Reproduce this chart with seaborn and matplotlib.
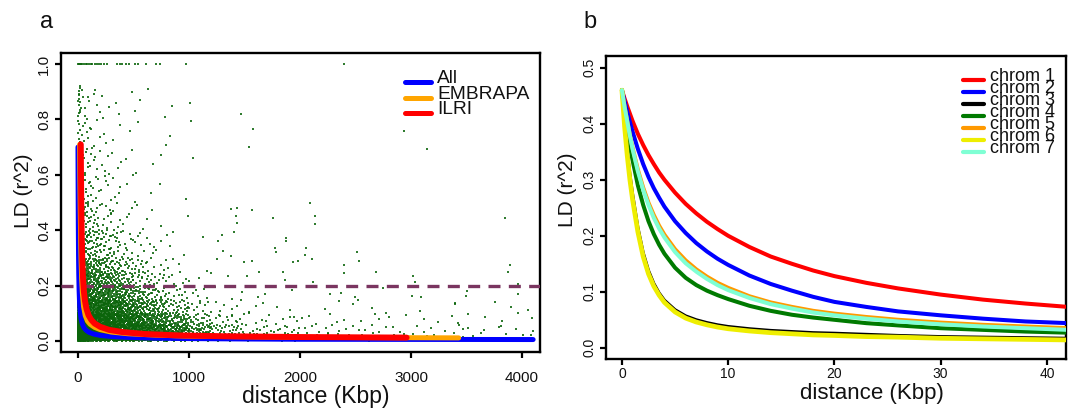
import numpy as np
import pandas as pd
import matplotlib
matplotlib.use('Agg')
import matplotlib.pyplot as plt
import seaborn as sns
from matplotlib.lines import Line2D

# ---------------- panel a : LD decay, all data ----------------
all_x = [0, 1, 2, 3, 5, 7, 10, 14, 20, 28, 40, 55, 75, 100, 140, 200, 300, 450, 700, 1000, 1500, 2000, 3000, 4100]
all_y = [0.70, 0.60, 0.50, 0.42, 0.31, 0.245, 0.185, 0.14, 0.105, 0.08, 0.06, 0.047, 0.038, 0.031, 0.025,
         0.02, 0.016, 0.013, 0.010, 0.0085, 0.007, 0.006, 0.0055, 0.005]

embrapa_x = [15, 17, 20, 24, 28, 33, 40, 50, 65, 85, 110, 150, 200, 300, 450, 700, 1000, 1500, 2000, 2700, 3430]
embrapa_y = [0.71, 0.60, 0.48, 0.37, 0.29, 0.225, 0.17, 0.125, 0.092, 0.072, 0.06, 0.049, 0.041, 0.032,
             0.026, 0.021, 0.017, 0.015, 0.013, 0.012, 0.011]

ilri_x = [25, 27, 30, 34, 39, 45, 53, 63, 77, 95, 120, 150, 200, 280, 400, 600, 900, 1300, 2000, 2960]
ilri_y = [0.71, 0.60, 0.48, 0.37, 0.29, 0.23, 0.18, 0.145, 0.115, 0.093, 0.076, 0.063, 0.051, 0.040,
          0.032, 0.025, 0.020, 0.017, 0.014, 0.012]

threshold = 0.2

# scatter density: counts of points per (distance, r^2) cell
x_edges = [0, 20, 50, 100, 200, 300, 400, 500, 600, 700, 800, 1000, 1200, 1500, 2000, 2500, 3000, 3500, 4100]
y_edges = [0, 0.03, 0.06, 0.1, 0.15, 0.2, 0.25, 0.3, 0.4, 0.5, 0.6, 0.7, 0.8, 0.92]
dens_counts = [
    [90, 90, 110, 100, 90, 80, 72, 65, 58, 52, 80, 50, 40, 32, 16, 12, 9, 9],
    [90, 90, 110, 100, 88, 78, 68, 58, 50, 42, 62, 30, 22, 16, 8, 7, 6, 6],
    [110, 110, 120, 110, 95, 80, 66, 54, 42, 34, 45, 20, 13, 10, 6, 5, 4, 5],
    [60, 60, 75, 85, 80, 66, 52, 40, 30, 22, 26, 10, 6, 5, 3, 3, 2, 3],
    [30, 35, 45, 55, 50, 40, 30, 22, 16, 11, 12, 5, 3, 3, 1, 1, 1, 1],
    [18, 22, 30, 40, 34, 26, 18, 12, 9, 6, 6, 3, 1, 1, 0, 0, 0, 0],
    [12, 15, 22, 28, 22, 16, 11, 7, 5, 3, 3, 1, 0, 0, 0, 0, 0, 0],
    [14, 16, 22, 30, 22, 15, 10, 6, 4, 3, 3, 1, 0, 0, 0, 0, 0, 0],
    [9, 10, 14, 16, 9, 6, 4, 2, 2, 1, 1, 0, 0, 0, 0, 0, 0, 0],
    [6, 6, 8, 9, 5, 4, 2, 1, 1, 1, 1, 0, 0, 0, 0, 0, 0, 0],
    [5, 5, 6, 7, 4, 3, 2, 1, 1, 1, 0, 0, 0, 0, 0, 0, 0, 0],
    [6, 3, 4, 5, 2, 2, 1, 1, 0, 1, 1, 0, 0, 0, 0, 0, 0, 0],
    [12, 4, 4, 5, 3, 2, 1, 2, 1, 1, 1, 0, 0, 0, 0, 0, 0, 0],
]

# points at r^2 = 1
one_x = [0, 10, 20, 30, 40, 55, 70, 85, 100, 115, 130, 150, 170, 190, 210, 235, 260,
         350, 375, 400, 430, 460, 515, 545, 610, 700, 735, 970, 2400]
one_y = [1.0] * len(one_x)

# individual outlying points
out_x = [1470, 1575, 1540, 2087, 2134, 2940, 3144, 3850, 3895, 1875, 2050, 1775, 2530, 1435, 1430,
         1005, 1020, 1040, 3960, 3015, 3036, 3012, 3090, 3396, 3960, 3875, 1380, 1423, 1565, 1760,
         2135, 1300, 1265, 1405, 1874, 1783, 2045, 1309, 1250, 1376, 1498, 1570, 1940, 1985, 2105,
         2510, 2396, 2396, 2685, 1843, 1525, 1865, 2120, 2270, 2495]
out_y = [0.82, 0.765, 0.70, 0.50, 0.424, 0.76, 0.693, 0.445, 0.274, 0.373, 0.334, 0.337, 0.29, 0.48, 0.425,
         0.86, 0.795, 0.66, 0.205, 0.236, 0.214, 0.164, 0.157, 0.138, 0.17, 0.25, 0.476, 0.452, 0.473, 0.443,
         0.452, 0.383, 0.362, 0.392, 0.36, 0.32, 0.31, 0.325, 0.296, 0.307, 0.284, 0.289, 0.286, 0.289, 0.296,
         0.322, 0.274, 0.244, 0.248, 0.248, 0.236, 0.22, 0.214, 0.168, 0.157]

# ---------------- panel b : per chromosome ----------------
chrom_x = [0, 0.25, 0.5, 0.75, 1, 1.5, 2, 2.5, 3, 3.5, 4, 5, 6, 7, 8, 9, 10, 12, 14, 16, 18, 20, 23, 26, 30, 34, 38, 42]
chrom_names = ["chrom 1", "chrom 2", "chrom 3", "chrom 4", "chrom 5", "chrom 6", "chrom 7"]
chrom1_y = [0.46, 0.445, 0.431, 0.418, 0.405, 0.382, 0.362, 0.344, 0.328, 0.313, 0.300, 0.277, 0.257, 0.240,
            0.225, 0.212, 0.200, 0.180, 0.163, 0.150, 0.138, 0.128, 0.116, 0.106, 0.095, 0.086, 0.079, 0.073]
chrom2_y = [0.46, 0.44, 0.421, 0.403, 0.386, 0.355, 0.328, 0.305, 0.285, 0.268, 0.252, 0.226, 0.205, 0.187,
            0.172, 0.159, 0.148, 0.129, 0.114, 0.102, 0.091, 0.082, 0.073, 0.065, 0.058, 0.052, 0.047, 0.044]
chrom3_y = [0.46, 0.40, 0.35, 0.31, 0.275, 0.215, 0.17, 0.138, 0.115, 0.098, 0.085, 0.068, 0.057, 0.050,
            0.045, 0.041, 0.038, 0.034, 0.031, 0.029, 0.027, 0.026, 0.024, 0.022, 0.020, 0.019, 0.018, 0.017]
chrom4_y = [0.46, 0.42, 0.39, 0.36, 0.335, 0.29, 0.255, 0.226, 0.203, 0.184, 0.168, 0.143, 0.125, 0.112,
            0.102, 0.094, 0.087, 0.075, 0.066, 0.059, 0.054, 0.050, 0.044, 0.040, 0.035, 0.032, 0.029, 0.027]
chrom5_y = [0.46, 0.43, 0.405, 0.38, 0.357, 0.318, 0.286, 0.259, 0.237, 0.218, 0.202, 0.176, 0.156, 0.140,
            0.127, 0.116, 0.107, 0.092, 0.081, 0.073, 0.066, 0.061, 0.055, 0.050, 0.045, 0.041, 0.038, 0.035]
chrom6_y = [0.46, 0.395, 0.343, 0.30, 0.265, 0.207, 0.163, 0.132, 0.110, 0.094, 0.081, 0.064, 0.053, 0.046,
            0.041, 0.037, 0.034, 0.030, 0.027, 0.025, 0.023, 0.022, 0.020, 0.019, 0.017, 0.016, 0.015, 0.014]
chrom7_y = [0.46, 0.43, 0.404, 0.379, 0.355, 0.315, 0.282, 0.255, 0.232, 0.213, 0.197, 0.171, 0.151, 0.136,
            0.123, 0.112, 0.103, 0.089, 0.078, 0.070, 0.063, 0.058, 0.052, 0.047, 0.042, 0.038, 0.035, 0.032]
chrom_ys = [chrom1_y, chrom2_y, chrom3_y, chrom4_y, chrom5_y, chrom6_y, chrom7_y]
chrom_colors = ["#ff0000", "#0000ff", "#000000", "#007a00", "#ff9900", "#eeee00", "#7fffd4"]
chrom_lw = [2.9, 2.9, 2.2, 2.9, 2.9, 3.4, 2.9]

# ---------------- build ----------------
sns.set_theme(style="ticks")
plt.rcParams['font.family'] = ['Liberation Sans', 'DejaVu Sans']

W, H = 1073, 412
fig = plt.figure(figsize=(W / 100, H / 100), dpi=100)


def box(l, t, r, b):
    return [l / W, 1 - b / H, (r - l) / W, (b - t) / H]


axa = fig.add_axes(box(61, 53, 540, 352))
axb = fig.add_axes(box(606, 56, 1066, 359))


def halton(i, b):
    f, r = 1.0, 0.0
    while i > 0:
        f /= b
        r += f * (i % b)
        i //= b
    return r


px, py = [], []
idx = 1
for j in range(len(y_edges) - 1):
    for i in range(len(x_edges) - 1):
        for k in range(dens_counts[j][i]):
            px.append(x_edges[i] + halton(idx, 2) * (x_edges[i + 1] - x_edges[i]))
            py.append(y_edges[j] + halton(idx, 3) * (y_edges[j + 1] - y_edges[j]))
            idx += 1
px += one_x + out_x
py += one_y + out_y
pts = pd.DataFrame({"distance": px, "r2": py})

green = "#0b650b"
sns.scatterplot(data=pts, x="distance", y="r2", ax=axa, s=1.0, marker="s",
                color=green, linewidth=0, alpha=0.85, legend=False, zorder=2)

axa.axhline(threshold, color="#7a3560", lw=2.4, dashes=(3.6, 2.5), zorder=3)

for xs, ys, col, lw in [(all_x, all_y, "#0000ff", 3.6),
                        (embrapa_x, embrapa_y, "#ffa500", 3.6),
                        (ilri_x, ilri_y, "#ff0000", 4.3)]:
    sns.lineplot(x=xs, y=ys, ax=axa, color=col, lw=lw, sort=False, estimator=None,
                 solid_capstyle="round", zorder=4)

axa.set_xlim(-153, 4162)
axa.set_ylim(-0.04, 1.04)
axa.set_xticks([0, 1000, 2000, 3000, 4000])
axa.set_xticklabels(["0", "1000", "2000", "3000", "4000"])
axa.set_yticks([0, 0.2, 0.4, 0.6, 0.8, 1.0])
axa.set_yticklabels(["0.0", "0.2", "0.4", "0.6", "0.8", "1.0"])

for i, (ys, col, lw) in enumerate(zip(chrom_ys, chrom_colors, chrom_lw)):
    sns.lineplot(x=chrom_x, y=ys, ax=axb, color=col, lw=lw, sort=False, estimator=None,
                 zorder=3 + i)
axb.set_xlim(-1.5, 41.8)
axb.set_ylim(-0.02, 0.521)
axb.set_xticks([0, 10, 20, 30, 40])
axb.set_xticklabels(["0", "10", "20", "30", "40"])
axb.set_yticks([0, 0.1, 0.2, 0.3, 0.4, 0.5])
axb.set_yticklabels(["0.0", "0.1", "0.2", "0.3", "0.4", "0.5"])

for ax, fs, xpad, xlp, ylp, xfs, xc, yc in [(axa, 11, 9, 0, 3, 16.5, 0.532, 0.538),
                                            (axb, 10, 1.5, 1.5, 3.5, 16, 0.578, 0.558)]:
    for sp in ax.spines.values():
        sp.set_visible(True)
        sp.set_linewidth(1.7)
        sp.set_color("black")
    ax.tick_params(axis="both", direction="out", length=4.5, width=1.6, colors="black",
                   labelsize=fs, labelcolor="#111111")
    ax.tick_params(axis="x", pad=xpad)
    ax.tick_params(axis="y", pad=2.5)
    for t in ax.get_yticklabels():
        t.set_rotation(90)
        t.set_va("center")
    ax.set_xlabel("distance (Kbp)", fontsize=xfs, labelpad=xlp, color="#111111")
    ax.set_ylabel("LD (r^2)", fontsize=15, labelpad=ylp, color="#111111")
    ax.xaxis.label.set_x(xc)
    ax.yaxis.label.set_y(yc)

fig.text(40 / W, 1 - 28 / H, "a", fontsize=17, color="#111111", va="baseline")
fig.text(583 / W, 1 - 28 / H, "b", fontsize=17, color="#111111", va="baseline")


# legends
def legend_entry(x0, x1, y, col, lw, label, xt, fs):
    fig.add_artist(Line2D([x0 / W, x1 / W], [1 - y / H, 1 - y / H], color=col, lw=lw,
                          solid_capstyle="round", transform=fig.transFigure))
    fig.text(xt / W, 1 - (y + 1.0) / H, label, fontsize=fs, color="#111111", va="baseline")


for y, col, lab in [(82, "#0000ff", "All"), (98, "#ffa500", "EMBRAPA"), (113, "#ff0000", "ILRI")]:
    legend_entry(405, 431, y, col, 3.6, lab, 437, 13.8)

for k, (col, lab) in enumerate(zip(chrom_colors, chrom_names)):
    y = 80 + 12 * k
    legend_entry(963, 984, y, col, 3.0, lab, 990, 13)

fig.savefig("out.png", dpi=100)
